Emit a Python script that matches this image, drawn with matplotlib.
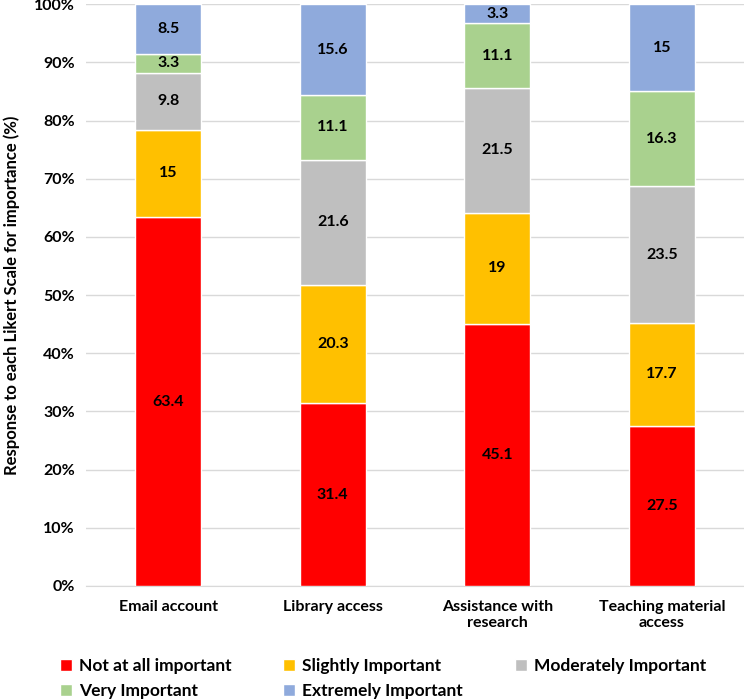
import matplotlib.pyplot as plt
import numpy as np

plt.rcParams['font.family'] = ['Lato', 'DejaVu Sans']
plt.rcParams['font.weight'] = 'bold'

categories = ["Email account", "Library access", "Assistance with\nresearch", "Teaching material\naccess"]
series_names = ["Not at all important", "Slightly Important", "Moderately Important",
                "Very Important", "Extremely Important"]
not_at_all = [63.4, 31.4, 45.1, 27.5]
slightly = [15, 20.3, 19, 17.7]
moderately = [9.8, 21.6, 21.5, 23.5]
very = [3.3, 11.1, 11.1, 16.3]
extremely = [8.5, 15.6, 3.3, 15]
colors = ["#FF0000", "#FFC000", "#BFBFBF", "#A9D18E", "#8FAADC"]

series = [not_at_all, slightly, moderately, very, extremely]

fig = plt.figure(figsize=(7.44, 7.0), dpi=100)
ax = fig.add_axes([0.1156, 0.163, 0.8844, 0.831])

x = np.arange(len(categories))
bottom = np.zeros(len(categories))
handles = []
for name, vals, c in zip(series_names, series, colors):
    vals = np.array(vals, dtype=float)
    bars = ax.bar(x, vals, 0.4, bottom=bottom, color=c, edgecolor='white',
                  linewidth=1, label=name, zorder=3)
    handles.append(bars)
    for xi, b, v in zip(x, bottom, vals):
        ax.text(xi, b + v / 2, f"{v:g}", ha='center', va='center',
                fontsize=11.5, fontweight='bold', color='black', zorder=4)
    bottom += vals

ax.set_xlim(-0.5, len(categories) - 0.5)
ax.set_ylim(0, 100)
ax.set_yticks(np.arange(0, 101, 10))
ax.set_yticklabels([f"{t}%" for t in range(0, 101, 10)])
ax.set_xticks(x)
ax.set_xticklabels(categories)
ax.tick_params(axis='both', length=0, labelsize=11.5)
ax.tick_params(axis='x', pad=10)
ax.tick_params(axis='y', pad=8)
ax.grid(axis='y', color='#D9D9D9', linewidth=1, zorder=0)
for s in ['top', 'right', 'left']:
    ax.spines[s].set_visible(False)
ax.spines['bottom'].set_color('#D9D9D9')
ax.set_ylabel("Response to each Likert Scale for importance (%)", fontsize=12,
              fontweight='bold', labelpad=10)

order = [0, 3, 1, 4, 2]
fig.legend([handles[i] for i in order], [series_names[i] for i in order],
           loc='upper left', bbox_to_anchor=(0.08, 0.06), borderaxespad=0,
           borderpad=0, ncol=3, frameon=False, fontsize=12.5, handlelength=0.7,
           handleheight=0.7, columnspacing=3.0, handletextpad=0.4, labelspacing=0.5)

fig.savefig("out.png", dpi=100)
